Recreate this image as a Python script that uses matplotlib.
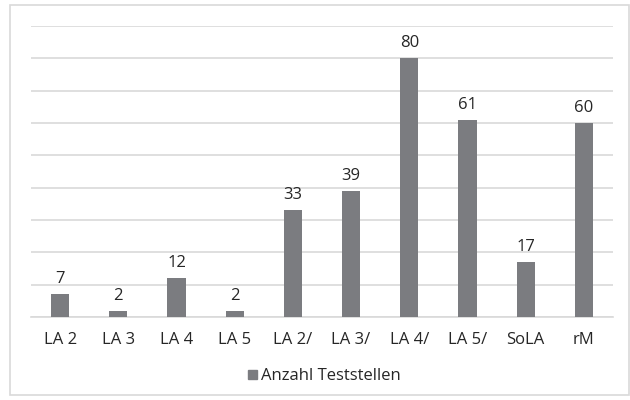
import matplotlib
matplotlib.use("Agg")
import matplotlib.pyplot as plt
from matplotlib.patches import Rectangle

categories = ["LA 2", "LA 3", "LA 4", "LA 5", "LA 2/", "LA 3/", "LA 4/", "LA 5/", "SoLA", "rM"]
values = [7, 2, 12, 2, 33, 39, 80, 61, 17, 60]
series_name = "Anzahl Teststellen"

bar_color = "#7b7c80"
grid_color = "#d9d9d9"
text_color = "#262626"

plt.rcParams["font.family"] = ["Open Sans", "DejaVu Sans"]

fig = plt.figure(figsize=(6.3, 4.0), dpi=100)
fig.patch.set_facecolor("white")

# outer chart frame
fig.add_artist(Rectangle((10 / 630, 5 / 400), 619 / 630, 390 / 400,
                         transform=fig.transFigure, fill=False,
                         edgecolor=grid_color, linewidth=1.2))

ax = fig.add_axes([31 / 630, 1 - 317 / 400, 582 / 630, (317 - 26) / 400])
x = range(len(categories))
ax.bar(x, values, width=0.31, color=bar_color, zorder=3)

ax.set_xlim(-0.5, len(categories) - 0.5)
ax.set_ylim(0, 90)
ax.set_yticks(range(0, 91, 10))
ax.yaxis.grid(True, color=grid_color, linewidth=1.2, zorder=0)
ax.tick_params(axis="y", left=False, labelleft=False)
ax.tick_params(axis="x", length=0, pad=11, labelsize=12, labelcolor=text_color)
ax.set_xticks(list(x))
ax.set_xticklabels(categories)
for s in ["top", "right", "left"]:
    ax.spines[s].set_visible(False)
ax.spines["bottom"].set_color(grid_color)
ax.spines["bottom"].set_linewidth(1.2)

for xi, v in zip(x, values):
    ax.annotate(str(v), (xi, v), xytext=(0, 5), textcoords="offset points",
                ha="center", va="bottom", fontsize=12, color=text_color)

# legend below the plot
fig.add_artist(Rectangle((248 / 630, 1 - 379 / 400), 9 / 630, 9 / 400,
                         transform=fig.transFigure, color=bar_color))
fig.text(261 / 630, 1 - 376 / 400, series_name, ha="left", va="center",
         fontsize=12, color=text_color)

fig.savefig("out.png", dpi=100, facecolor="white")
